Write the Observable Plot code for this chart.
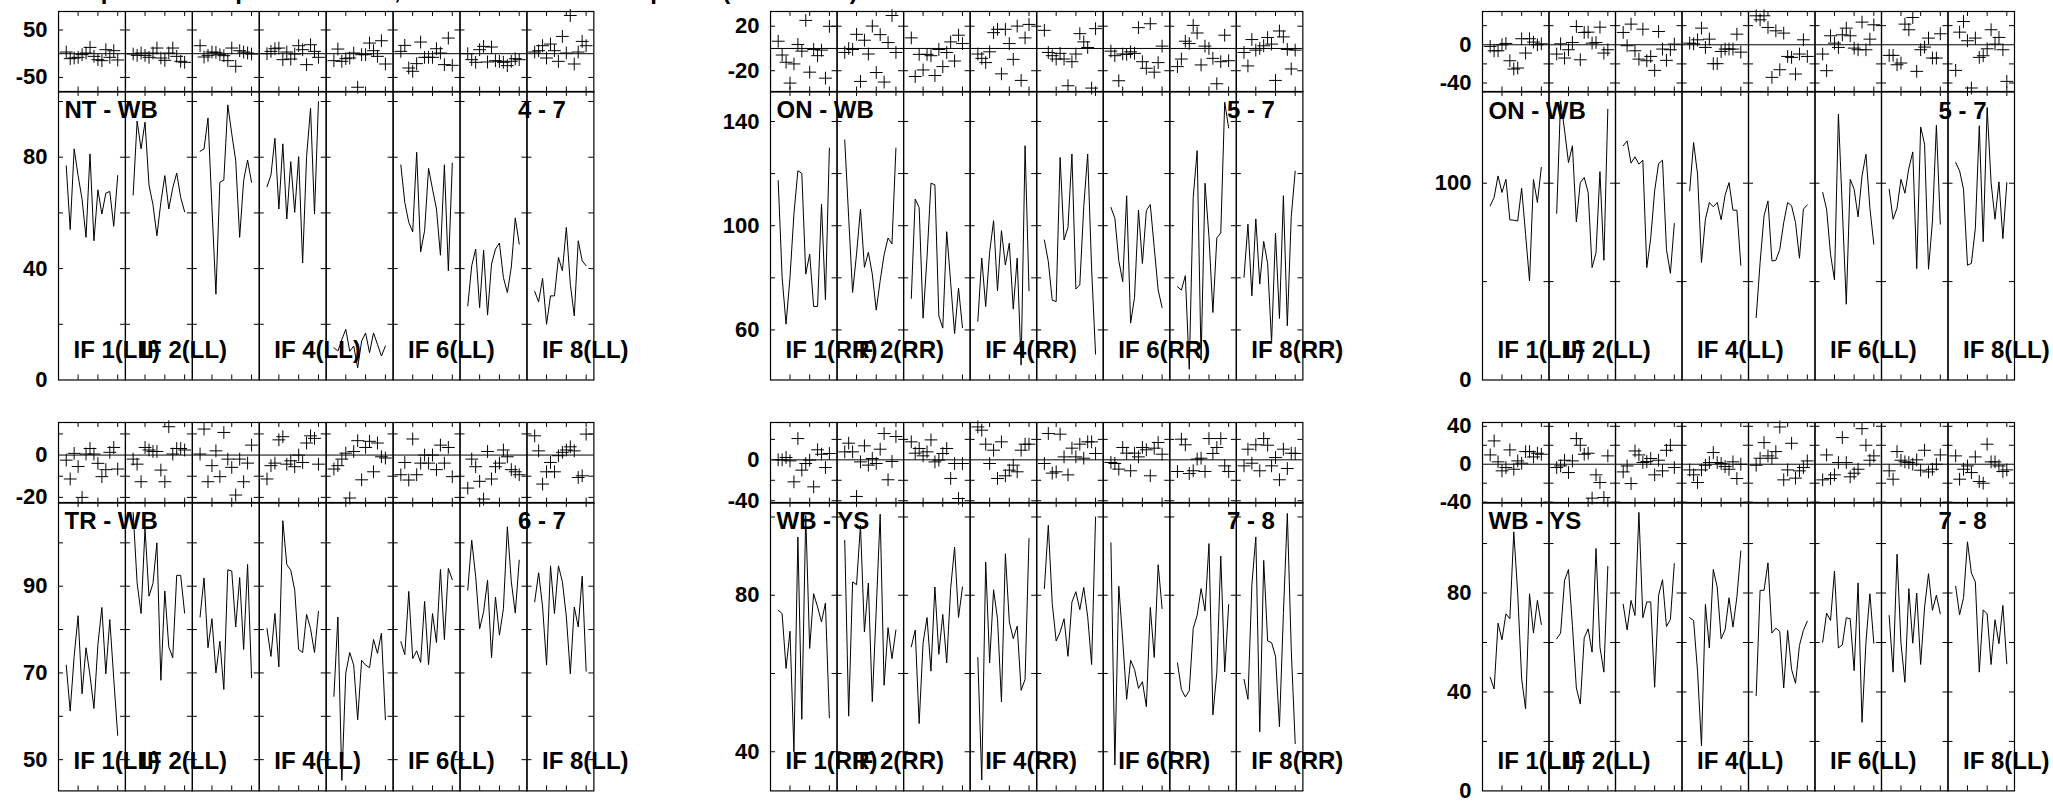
<!DOCTYPE html>
<html><head><meta charset="utf-8">
<script src="https://cdn.jsdelivr.net/npm/d3@7"></script>
<script src="https://cdn.jsdelivr.net/npm/@observablehq/plot@0.6"></script>
<style>
html,body{margin:0;padding:0;background:#fff;}
body{width:2053px;height:801px;overflow:hidden;position:relative;font-family:"Liberation Sans",Arial,Helvetica,sans-serif;}
.p{position:absolute;}
.p svg{overflow:visible;}
#title{position:absolute;left:62px;top:-21px;font:bold 24px "Liberation Sans",Arial,sans-serif;white-space:nowrap;line-height:24px;}
</style></head><body>
<div id="title">Amplitude and phase vs time, calibrated visibilities per IF (LL and RR)</div>
<script>
// ---------- shared categories / ticks ----------
const times = [0, 1, 2, 3, 4, 5, 6, 7, 8, 9, 10, 11, 12, 13];
const ifs = [1, 2, 3, 4, 5, 6, 7, 8];
const xTicks = [3, 8, 13];
const ifLabelIfs = [1, 2, 4, 6, 8];

// ---------- NT - WB (LL), stations 4 - 7 ----------
const phaseNTWB = [
  [3.5, -10.5, -9, -7.7, -2, 1.4, 13.3, -5.6, -12.6, -14.7, 8.4, -7.7, 6.3, -13.3],
  [-0.7, -3.5, 1.4, -3.5, -7.7, 1.4, 11.9, -9.1, -14, 1.4, 11.9, -5.6, -16.1, -18.2],
  [16.8, -7, -3.5, 3.5, 2.8, -2.1, -4.2, -14.7, 11.9, -26.6, 6.3, 3.5, 1.4, -0.7],
  [0, 4.9, 10.5, 11.9, -12.6, 3.5, -11.2, -0.7, 16.8, 8.4, -23.1, 18.9, 4.9, -7.7],
  [-14.7, 9.8, -16.1, -10.5, -9.1, 1.4, -70.7, -2.1, -2.1, 22.4, 6.3, -5.6, 27.3, -21.7],
  [4.9, 17.5, -30.1, -37.1, -21, 24.5, -7.7, -7.7, -7.7, 10.5, 1.4, -23.1, 32.9, -24.5],
  [0, -12.6, -18.2, 8.4, 15.4, -17.5, 14, -14.7, -16.1, -18.2, -25.2, -16.1, -10.5, -12.6],
  [3.5, 6.3, 16.8, -9.1, 20.3, 6.3, -16.1, 36.4, 1.4, 80.5, -21.7, 3.5, 25.9, 16.8]
];
const ampNTWB = [
  [76.9, 54, 83, 73.4, 64.9, 51.2, 81.2, 50, 68.3, 59.6, 67.1, 67.7, 55.2, 73.4],
  [66.4, 93, 83, 92.6, 70, 63, 51.8, 63.8, 73.4, 61.4, 69, 74.3, 65.6, 60.4],
  [82.1, 83, 94.1, 62, 30.8, 71, 71.8, 98.8, 88.4, 78.8, 51.2, 71.6, 79, 71],
  [69.4, 73.6, 86.8, 61.4, 84.8, 57.8, 78.4, 60.2, 80.2, 42, 80.2, 97.6, 59.6, 100],
  [11.6, 10.4, 14.5, 18.2, 10.3, 12.2, 4.4, 14, 16.9, 9.8, 16.9, 12.8, 8.6, 12.2],
  [77.2, 63.8, 56.6, 53.2, 81.8, 46, 53.6, 76, 68.6, 61.4, 44.8, 77.3, 39.2, 77.9],
  [26.6, 41, 47, 26, 46.6, 23.3, 41.6, 47, 49.2, 36.8, 31.4, 40.6, 58.2, 48.8],
  [31.8, 28.1, 36.5, 20, 30.2, 30.2, 44, 39.2, 54.8, 34.4, 23, 50, 42.8, 41]
];

// ---------- ON - WB (RR), stations 5 - 7 ----------
const phaseONWBrr = [
  [6.5, -5.9, -12.4, -31.1, -13.9, 3.6, -2.4, 25.2, -21.3, -0.9, -6.5, -1.5, -26.7, 19.9],
  [-3.6, 0, -0.9, 12.7, -29.6, 7.4, -5, 20.1, -21.6, 12.4, -30.2, 5.3, 29.6, -3.6],
  [9.5, -25.2, -5.3, -19.3, -5.3, -6.5, -24.3, -0.9, -16.3, -3.6, 5.9, -11.3, 11.9, 4.4],
  [-5, -8.9, -12.7, -3, 14.2, 17.2, -22.8, 17.2, 4.4, -9.8, 20.1, -28.7, 9.5, 21.6],
  [16.3, -3.6, -6.5, -9.5, -4.4, -9.5, -33.5, -11.9, -5, 13.3, 5.9, 0.9, -35.6, 17.8],
  [-2.4, -6.5, -29, -5, -5.3, -3, -4.4, 18.7, -11.9, -17.8, 22.2, -21.3, -12.7, 2.1],
  [-16.3, -9.5, 6.5, 4.4, 20.7, 13.9, -14.8, 2.1, 0, -8.9, -31.7, -11.9, 11.9, -11],
  [-3.6, -15.7, 8, -1.5, 0, 2.4, 9.8, 3.9, -28.7, 15.7, 10.4, -0.9, -18.4, -1.5]
];
const ampONWBrr = [
  [117.3, 80.2, 62.2, 80.2, 104.5, 121.1, 120.1, 81.4, 89.1, 69, 69, 108.3, 71.6, 129.8],
  [132.9, 103.2, 74.4, 89.1, 106.4, 84, 89.8, 81.4, 67.6, 78.9, 88.9, 95.3, 93, 129.8],
  [72.1, 110.2, 107, 64.5, 87.8, 116.3, 115.7, 65.4, 60.7, 97.7, 78.2, 58.6, 76.1, 60.9],
  [63.3, 87.6, 69, 89.8, 101.9, 75, 98.1, 84.9, 93.3, 68, 87.6, 46.5, 130.7, 75],
  [94.5, 86.3, 71.4, 70.9, 126.2, 94.5, 99.4, 127.5, 75.7, 77.3, 107.3, 127.5, 83.4, 50.7],
  [107, 102.9, 86.6, 78.5, 111.5, 62.6, 72.5, 106, 85.5, 105.8, 108.1, 91.7, 75.3, 68.6],
  [76.6, 75.3, 80.8, 44.9, 110.9, 128.8, 48.4, 116.3, 95.8, 66.7, 95.3, 97.2, 147.4, 137.5],
  [80.2, 100.6, 73.1, 102.6, 77.6, 94, 85.5, 55.2, 97.2, 64.4, 111.5, 61.6, 103.5, 120.9]
];

// ---------- ON - WB (LL), stations 5 - 7 ----------
const phaseONWBll = [
  [-1.7, -6.3, -6.3, 0, 1.4, -16.7, -25.4, -24.3, 6.3, -8.7, 6.3, 2.8, 0, 1],
  [-9.7, 1, -13.9, -5.2, 2.4, 19.1, -15.7, 12.9, 13.2, 1.7, 2.4, 18.4, -8.7, -5.2],
  [12.9, -1, 21.6, -6.3, -15, 16.3, -16.7, -12.2, -26.8, 13.9, -4.5, -16.3, -5.2, 0.7],
  [1.7, 1, 5.2, 17.4, -2.8, 5.9, -19.8, -19.8, -7, -4.5, -4.5, -4.5, 11.1, -7.7],
  [30.3, 26.1, 30.3, 18.1, -34.1, 14.6, -26.1, 12.2, -12.2, -13.2, -30.6, -9.7, 5.2, -12.2],
  [-9.7, -27.1, 9.4, 1.7, -2.8, 10.4, 17.4, 9.4, -3.5, -5.2, 23.7, -5.2, 5.9, 20.9],
  [-11.1, -11.1, -20.9, -19.1, 21.6, 15.7, 28.5, -27.8, -5.2, -2.4, 7, -13.9, -13.9, 11.5],
  [-26.8, 13.2, 24.3, 4.2, -45.2, 7, -13.2, -11.5, -4.2, 15.7, 0.7, 7.7, -5.2, -38.3]
];
const ampONWBll = [
  [88.5, 92.7, 103.7, 95.3, 102, 81.4, 81.2, 80.8, 97.5, 74, 50.3, 101.9, 90.2, 108],
  [84.7, 141.9, 127, 110.5, 119, 80.3, 100.3, 102.9, 95.3, 57.1, 64.7, 105.9, 60.8, 137.6],
  [119, 121.5, 110.2, 113.4, 109.7, 111.7, 57.1, 72, 96.1, 110, 111.7, 66.4, 54.2, 79.5],
  [96.1, 120.7, 104.6, 59.7, 81.7, 90.2, 88, 90.2, 81.4, 93.9, 100.3, 86.3, 86.3, 58.3],
  [31.7, 59.7, 83.4, 91, 60.5, 60.8, 66.4, 80, 90.2, 88.5, 80, 61.9, 86.8, 89],
  [95.3, 86.8, 63.9, 50.8, 135.1, 86.8, 38.5, 102, 96.9, 82.9, 103.7, 114.7, 87.3, 69],
  [96.9, 81.7, 87.3, 102, 94.9, 107.6, 115.9, 56.6, 128.6, 119.8, 56.3, 80.8, 129.5, 79.2],
  [110.5, 106.3, 96.9, 58.3, 59.3, 77.1, 129.2, 70.3, 138.5, 100.3, 81.7, 100.7, 71.9, 100.3]
];

// ---------- TR - WB (LL), stations 6 - 7 ----------
const phaseTRWB = [
  [-2.4, -11.3, 0.8, -5.4, -20, 0.5, 3.1, 0.5, -3.9, -10.2, -6.9, 1.3, 3.6, -6.6],
  [-1.9, -4.3, -12.6, 3.6, 2.4, 1.7, 1.7, -7.1, -12.6, 13.4, 0.5, 3.1, 3.1, 2.4],
  [0.5, 12.3, -12.6, -5, 2, -10.2, 10.7, -1.9, -5.8, -18.9, -1.9, -12.6, -3.8, 4.7],
  [-11.3, -5, -3.8, 7.2, 8.7, -4.3, -2.7, -5.5, 0, -3.5, 5.7, 9.1, 7.9, -4.3],
  [-6.6, -5, -1.9, 0.9, -20.3, 1.7, 6.8, -11.7, 3.6, 6.5, -7.9, 5.7, -0.8, -1.4],
  [-9.3, -3.5, -11.8, 7.6, -9.3, -3.8, 0, -3.8, 0, -6.9, 4.7, -3.8, 3.6, -10.2],
  [-15.6, -1.9, -5.5, -12.4, -20.8, 1.7, -11.3, -5.5, -3.8, 2.4, -0.8, -6.9, -7.9, -9.3],
  [9.1, 2, -13.7, -7.9, -3.5, -7.9, -0.3, 1.3, 2.4, 3.9, 2, -10.6, -9.8, 9.9]
];
const ampTRWB = [
  [71.8, 61.2, 73.8, 83.2, 65.2, 75.8, 69.5, 61.8, 76.5, 85.1, 69.8, 82.3, 68.7, 55.6],
  [107, 90.8, 83.7, 103.3, 87.7, 90.6, 100, 68.3, 88.9, 76, 73.5, 92.5, 92.5, 83.8],
  [82.9, 91.9, 75.8, 82.5, 70, 77.3, 66.2, 93.8, 93.5, 80.6, 92, 75.4, 95, 68.9],
  [80.2, 73.8, 83.7, 71.4, 105.1, 95, 93.7, 89.1, 75.4, 74.7, 83.5, 80.2, 74.7, 84.2],
  [64.6, 82.9, 45.2, 70, 74.7, 71.8, 59.2, 72.9, 71.8, 71.2, 77.7, 74.5, 79.2, 59.2],
  [77.2, 74.2, 88.8, 73.3, 75.1, 72.4, 86.5, 71.9, 83.7, 77, 93.9, 77.7, 94.1, 91.5],
  [89.1, 100.6, 92.2, 80.2, 84.1, 91.4, 73.5, 87.5, 78.7, 84.8, 103.7, 91, 83.8, 96],
  [86.4, 93.1, 85.2, 71.8, 94.7, 83.7, 94.7, 91, 82.9, 69.8, 85.2, 80.6, 92.3, 70.4]
];

// ---------- WB - YS (RR), stations 7 - 8 ----------
const phaseWBYSrr = [
  [0, 0, 2.3, -1, -21.5, 20.8, -10.1, -3.6, -0.3, -26.4, 9.8, 5.5, -7.5, 6.2],
  [7.8, 16.3, 7.8, -35.8, -2, 13.7, -5.2, 1.3, -3.6, 10.4, 25.7, -19.5, -1.6, 22.8],
  [17.6, 6.5, 11.1, 3.9, 7.8, 19.5, -2, -0.3, 6.2, 11.1, -18.2, -3.6, -37.8, -3.6],
  [32.2, 29, 15.3, -3.6, 9.4, -18.2, 17.6, -15.6, -10.1, -5.2, -11.7, 9.4, 15.3, 15.3],
  [-3.6, 25.7, -13, -11.7, 25.1, 2.9, -14.7, 11.4, 2.9, 15.3, 1.6, 17.6, 17.6, 6.2],
  [-2.6, -3.6, -9.1, 12.1, 6.5, -10.7, 6.5, 2.9, 12.1, 9.8, -15.6, 11.4, 16.9, 5.5],
  [-11.4, 20.2, 14.7, -13.4, -10.7, 0.7, 1.6, -11.4, 20.8, 6.2, 12.1, 20.8, -5.9, -11.4],
  [-5.9, 10.4, -3.3, 14.7, -10.7, 20.8, 14.3, -5.9, 2.3, -19.5, 10.4, -8.5, 6.5, 6.2]
];
const ampWBYSrr = [
  [76.2, 75.3, 61.3, 70.8, 40, 94.9, 48.3, 100.4, 66.4, 80.4, 77, 73.2, 78, 48.7],
  [94, 49.1, 83.4, 82.7, 97.9, 70.6, 83.1, 52.8, 76.2, 100.7, 57, 71.7, 63.8, 71.1],
  [66.8, 71.1, 47.2, 67.8, 74.3, 60.6, 82.1, 64.9, 75.1, 62.7, 81.7, 92.3, 74.3, 82.1],
  [64.1, 32.8, 88.5, 62.7, 81.4, 74, 52.8, 90.6, 73.2, 68.9, 72.1, 55.7, 58.5, 94.5],
  [81.7, 97.9, 77.9, 68.3, 70.6, 74, 64.4, 78.3, 80.9, 76.3, 82, 74.5, 62.3, 100],
  [93.4, 36.6, 82.3, 68.5, 53.4, 63.4, 61, 56.2, 57.9, 51.5, 76.9, 64.1, 87.8, 76.6],
  [62.7, 55.9, 54, 55.6, 71.5, 74.9, 81.7, 76, 93.2, 49.4, 60.4, 90, 60.4, 77.6],
  [58.5, 53.4, 82.8, 94.9, 45.1, 88.9, 68.3, 67.9, 64.4, 46.4, 75.3, 100.9, 66, 42.1]
];

// ---------- WB - YS (LL), stations 7 - 8 ----------
const phaseWBYSll = [
  [9.8, 24.6, 2.5, -7, -3.5, 15.1, -5.3, 3.5, 1.1, 13.3, 13.3, 7.7, 11.6, 10.5],
  [-3.5, -1.8, 4.2, -8.8, 3.5, 27, 20, 10.5, 11.6, -35.8, -11.2, -19.3, -35.1, 8.8],
  [-8.1, -1.8, -20.4, 14, 9.8, 1.8, 2.8, 6, -11.2, 4.2, -7, 14.7, 20, -3.5],
  [-6, -11.2, -19.3, -6, -1.1, 1.8, 12.3, 1.8, 0.7, -2.5, -5.3, 2.5, -15.1, 0],
  [-1.1, 6.3, 22.8, 8.8, 6.3, 13.3, 39.3, -16.5, -6, 22.1, -14.7, -7, -3.5, 3.5],
  [-16.5, 9.8, -15.1, -11.2, 1.8, 28.1, 1.8, -13.3, -9.5, -5.3, 37.5, 20, 4.2, 8.8],
  [-7, -15.8, 13.3, 4.2, 2.5, 1.8, 0, 4.6, -6.3, 14.7, -8.1, -5.3, 0, 9.8],
  [8.8, -15.8, -5.3, -1.8, -8.8, 7.7, -18.2, -20, 21.1, 2.5, 2.5, -1.8, -7.7, -6]
];
const ampWBYSll = [
  [45.9, 41.2, 67.8, 61.1, 71.6, 69.6, 104.7, 79.7, 45.3, 33.1, 79.7, 63.8, 77, 67.3],
  [61.5, 63.8, 85.1, 89.5, 66.9, 41.6, 35.1, 61.9, 65.5, 56.1, 98, 58.1, 48, 90.8],
  [75.4, 65.1, 77, 70.9, 112.6, 70, 76.4, 76.4, 41.9, 79.1, 85.4, 66.5, 69.3, 91.9],
  [70, 68.9, 48.4, 18.2, 75.4, 57.8, 89.5, 82.4, 61.5, 65.1, 78.1, 66.2, 78.4, 97],
  [38.5, 81.1, 81.1, 92.2, 63.8, 65.8, 64.5, 41.6, 64.9, 49.1, 43.5, 58.8, 64.9, 68.6],
  [60.1, 71.9, 68.9, 88.9, 57.8, 59.1, 70, 69.6, 48.6, 84.1, 27.7, 60.1, 79.7, 59.7],
  [70.9, 48, 95.7, 59.7, 43.9, 81.8, 59.7, 80, 51.1, 74.3, 87.8, 73, 79.1, 71.6],
  [82.7, 71.2, 78.1, 100.7, 88.1, 84.5, 48, 73.2, 71.6, 51.1, 69.2, 59.5, 75, 51.4]
];

// ---------- axis label / tick values ----------
const baselines = ["NT - WB", "ON - WB", "ON - WB", "TR - WB", "WB - YS", "WB - YS"];
const stationPairs = ["4 - 7", "5 - 7", "5 - 7", "6 - 7", "7 - 8", "7 - 8"];
const pols = ["LL", "RR", "LL", "LL", "RR", "LL"];
const phaseLabels = [[-50, 50], [-20, 20], [-40, 0], [-20, 0], [-40, 0], [-40, 0, 40]];
const phaseTicks = [[-50, 50], [-20, 20], [-40, -20, 20], [-20, -10, 10], [-40, -20, 20], [-40, -20, 20, 40]];
const ampLabels = [[0, 40, 80], [60, 100, 140], [0, 100], [50, 70, 90], [40, 80], [0, 40, 80]];
const ampTicks = [[20, 40, 60, 80, 100], [60, 80, 100, 120, 140], [50, 100], [50, 60, 70, 80, 90, 100], [40, 60, 80, 100], [20, 40, 60, 80, 100]];
const phaseSets = [phaseNTWB, phaseONWBrr, phaseONWBll, phaseTRWB, phaseWBYSrr, phaseWBYSll];
const ampSets = [ampNTWB, ampONWBrr, ampONWBll, ampTRWB, ampWBYSrr, ampWBYSll];

// ---------- layout (scale domains and frame boxes) ----------
const layout = [
  {left: 57.6, width: 535.4, top: 10.5, sep: 91, bottom: 379.5, phaseDomain: [-80.7, 88.9], ampDomain: [0, 103.6]},
  {left: 769.6, width: 532.4, top: 10.5, sep: 91, bottom: 379.5, phaseDomain: [-39.1, 33.2], ampDomain: [40.8, 151.5]},
  {left: 1482, width: 532, top: 10.5, sep: 91, bottom: 379.5, phaseDomain: [-49.4, 34.8], ampDomain: [0, 146.6]},
  {left: 57.6, width: 535.4, top: 421.7, sep: 502.3, bottom: 790.7, phaseDomain: [-22.7, 15.4], ampDomain: [42.8, 109.3]},
  {left: 769.6, width: 532.4, top: 421.7, sep: 502.3, bottom: 790.7, phaseDomain: [-42.3, 36.5], ampDomain: [30, 103.7]},
  {left: 1482, width: 532, top: 421.7, sep: 502.3, bottom: 790.7, phaseDomain: [-41, 44], ampDomain: [0, 116.6]}
];
const xDomain = [-1.95, 14.95];
const FONT = '"Liberation Sans", Arial, Helvetica, sans-serif';
const ML = 80, MR = 10;

function toRows(set) {
  return ifs.flatMap((f, i) => times.map((t, j) => ({if: f, t, v: set[i][j]})));
}

function frameMarks(bw, h, yTicks) {
  return [
    Plot.tickY(yTicks, {y: d => d, insetRight: bw - 5, stroke: "black", strokeWidth: 1}),
    Plot.tickY(yTicks, {y: d => d, insetLeft: bw - 5, stroke: "black", strokeWidth: 1}),
    Plot.tickX(xTicks, {x: d => d, insetTop: h - 5, stroke: "black", strokeWidth: 1}),
    Plot.tickX(xTicks, {x: d => d, insetBottom: h - 5, stroke: "black", strokeWidth: 1}),
    Plot.frame({stroke: "black", strokeWidth: 1.2})
  ];
}

function place(svg, left, top) {
  const div = document.createElement("div");
  div.className = "p";
  div.style.left = (left - ML) + "px";
  div.style.top = top + "px";
  div.appendChild(svg);
  document.body.appendChild(div);
}

layout.forEach((L, k) => {
  const bw = L.width / ifs.length;
  const common = {
    width: L.width + ML + MR,
    marginLeft: ML, marginRight: MR, marginTop: 0, marginBottom: 0,
    style: {fontFamily: FONT, fontSize: "22px", fontWeight: "bold", color: "black", background: "transparent", overflow: "visible"},
    x: {domain: xDomain, axis: null},
    fx: {domain: ifs, padding: 0, axis: null, round: false}
  };
  // phase panel
  const hP = L.sep - L.top;
  const phase = Plot.plot({
    ...common,
    height: hP,
    y: {domain: L.phaseDomain, ticks: phaseLabels[k], tickSize: 0, tickPadding: 11, tickFormat: d => String(d), label: null},
    marks: [
      ...frameMarks(bw, hP, phaseTicks[k]),
      Plot.ruleY([0], {stroke: "black", strokeWidth: 1}),
      Plot.dot(toRows(phaseSets[k]), {x: "t", y: "v", fx: "if", symbol: "plus", r: 4.2, stroke: "black", strokeWidth: 1})
    ]
  });
  place(phase, L.left, L.top);
  // amplitude panel
  const hA = L.bottom - L.sep;
  const amp = Plot.plot({
    ...common,
    height: hA,
    y: {domain: L.ampDomain, ticks: ampLabels[k], tickSize: 0, tickPadding: 11, tickFormat: d => String(d), label: null},
    marks: [
      ...frameMarks(bw, hA, ampTicks[k]),
      Plot.line(toRows(ampSets[k]), {x: "t", y: "v", fx: "if", stroke: "black", strokeWidth: 1}),
      Plot.text([baselines[k]], {fx: () => 1, text: d => d, frameAnchor: "top-left", textAnchor: "start", lineAnchor: "bottom", dx: 6, dy: 27, fontSize: 24, fontWeight: "bold", fill: "black"}),
      Plot.text([stationPairs[k]], {fx: () => 8, text: d => d, frameAnchor: "top-right", textAnchor: "end", lineAnchor: "bottom", dx: -28, dy: 27, fontSize: 24, fontWeight: "bold", fill: "black"}),
      Plot.text(ifLabelIfs, {fx: d => d, text: d => `IF ${d}(${pols[k]})`, frameAnchor: "bottom-left", textAnchor: "start", lineAnchor: "bottom", dx: 15, dy: -22, fontSize: 24, fontWeight: "bold", fill: "black"})
    ]
  });
  place(amp, L.left, L.sep);
});
</script>
</body></html>
